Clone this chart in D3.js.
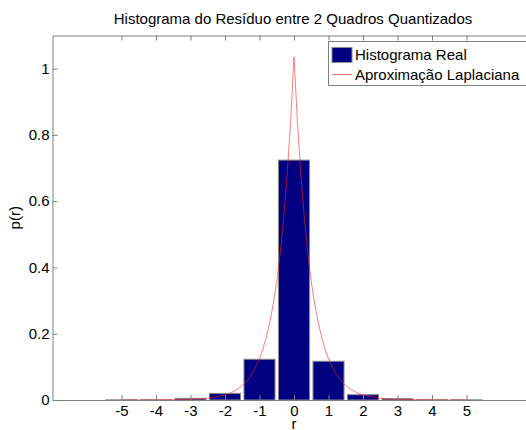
<!DOCTYPE html>
<html>
<head>
<meta charset="utf-8">
<script src="https://cdn.jsdelivr.net/npm/d3@7"></script>
<style>
  html, body { margin: 0; padding: 0; background: #fff; }
  svg { display: block; font-family: "Liberation Sans", Arial, sans-serif; }
</style>
</head>
<body>
<svg id="chart" width="526" height="430"></svg>
<script>
// ---- data ----
const categories = [-5, -4, -3, -2, -1, 0, 1, 2, 3, 4, 5];
const histValues = [0.0005, 0.0005, 0.005, 0.02, 0.123, 0.724, 0.117, 0.016, 0.004, 0.0005, 0.0005];

const curveR = [-5, -4.5, -4, -3.5, -3, -2.5, -2, -1.8, -1.6, -1.4, -1.2, -1, -0.9, -0.8, -0.7, -0.6, -0.5, -0.4, -0.3, -0.2, -0.1,
                0, 0.1, 0.2, 0.3, 0.4, 0.5, 0.6, 0.7, 0.8, 0.9, 1, 1.2, 1.4, 1.6, 1.8, 2, 2.5, 3, 3.5, 4, 4.5, 5];
const curveP = [0, 0.0001, 0.0003, 0.001, 0.002, 0.005, 0.015, 0.023, 0.035, 0.053, 0.081, 0.124, 0.154, 0.19, 0.235, 0.29, 0.358, 0.443, 0.548, 0.677, 0.837,
                1.035, 0.837, 0.677, 0.548, 0.443, 0.358, 0.29, 0.235, 0.19, 0.154, 0.124, 0.081, 0.053, 0.035, 0.023, 0.015, 0.005, 0.002, 0.001, 0.0003, 0.0001, 0];

const xTicks = [-5, -4, -3, -2, -1, 0, 1, 2, 3, 4, 5];
const xTickLabels = ["-5", "-4", "-3", "-2", "-1", "0", "1", "2", "3", "4", "5"];
const yTicks = [0, 0.2, 0.4, 0.6, 0.8, 1];
const yTickLabels = ["0", "0.2", "0.4", "0.6", "0.8", "1"];
const xDomain = [-7, 7];
const yDomain = [0, 1.1];

const titleText = "Histograma do Resíduo entre 2 Quadros Quantizados";
const xLabel = "r";
const yLabel = "p(r)";
const legendLabels = ["Histograma Real", "Aproximação Laplaciana"];

// ---- layout ----
const svg = d3.select("#chart");
const mLeft = 52.5, mRight = 535.5, mTop = 35.5, mBottom = 400;
const axisColor = "#808080";
const fs = 15;
const curveColor = "#ff2020";

const x = d3.scaleLinear().domain(xDomain).range([mLeft, mRight]);
const y = d3.scaleLinear().domain(yDomain).range([mBottom, mTop]);
const barW = x(0.9) - x(0);

svg.append("rect").attr("width", 526).attr("height", 430).attr("fill", "#fff");

// bars
svg.append("g").selectAll("rect")
  .data(categories.map((c, i) => ({c, v: histValues[i]})))
  .join("rect")
  .attr("x", d => x(d.c) - barW / 2)
  .attr("y", d => y(d.v))
  .attr("width", barW)
  .attr("height", d => y(0) - y(d.v))
  .attr("fill", "#000080")
  .attr("stroke", "#8c8c8c")
  .attr("stroke-width", 1);

// laplacian curve
const pts = curveR.map((r, i) => [r, curveP[i]]);
svg.append("path")
  .datum(pts)
  .attr("d", d3.line().x(d => x(d[0])).y(d => y(d[1])))
  .attr("fill", "none")
  .attr("stroke", curveColor)
  .attr("stroke-opacity", 0.65)
  .attr("stroke-width", 0.9);

// axes (box style)
const tickLen = 5;
const gx = svg.append("g").attr("transform", `translate(0,${mBottom})`)
  .call(d3.axisBottom(x).tickValues(xTicks).tickSizeInner(-tickLen).tickSizeOuter(0).tickPadding(5.5)
    .tickFormat((d, i) => xTickLabels[i]));
const gxTop = svg.append("g").attr("transform", `translate(0,${mTop})`)
  .call(d3.axisTop(x).tickValues(xTicks).tickSizeInner(-tickLen).tickSizeOuter(0).tickFormat(""));
const gy = svg.append("g").attr("transform", `translate(${mLeft},0)`)
  .call(d3.axisLeft(y).tickValues(yTicks).tickSizeInner(-tickLen).tickSizeOuter(0).tickPadding(3)
    .tickFormat((d, i) => yTickLabels[i]));
const gyR = svg.append("g").attr("transform", `translate(${mRight},0)`)
  .call(d3.axisRight(y).tickValues(yTicks).tickSizeInner(-tickLen).tickSizeOuter(0).tickFormat(""));

[gx, gxTop, gy, gyR].forEach(g => {
  g.selectAll(".domain").attr("stroke", axisColor);
  g.selectAll(".tick line").attr("stroke", axisColor);
  g.selectAll("text").attr("fill", "#000").attr("font-size", fs).attr("font-family", "Liberation Sans, Arial, sans-serif");
});

// title and labels
svg.append("text").attr("x", 293).attr("y", 24).attr("text-anchor", "middle")
  .attr("font-size", fs).text(titleText);
svg.append("text").attr("x", x(0)).attr("y", 429).attr("text-anchor", "middle")
  .attr("font-size", fs).text(xLabel);
svg.append("text").attr("transform", `translate(20,${(mTop + mBottom) / 2}) rotate(-90)`)
  .attr("text-anchor", "middle").attr("font-size", fs).text(yLabel);

// legend
const lg = svg.append("g");
lg.append("rect").attr("x", 328.5).attr("y", 41.5).attr("width", 230).attr("height", 44)
  .attr("fill", "#fff").attr("stroke", axisColor);
lg.append("rect").attr("x", 332).attr("y", 47.5).attr("width", 20).attr("height", 15)
  .attr("fill", "#000080").attr("stroke", "#8c8c8c");
lg.append("text").attr("x", 355).attr("y", 60).attr("font-size", fs).text(legendLabels[0]);
lg.append("line").attr("x1", 332).attr("x2", 352).attr("y1", 74.5).attr("y2", 74.5)
  .attr("stroke", curveColor).attr("stroke-opacity", 0.65);
lg.append("text").attr("x", 355).attr("y", 80).attr("font-size", fs).text(legendLabels[1]);
</script>
</body>
</html>
